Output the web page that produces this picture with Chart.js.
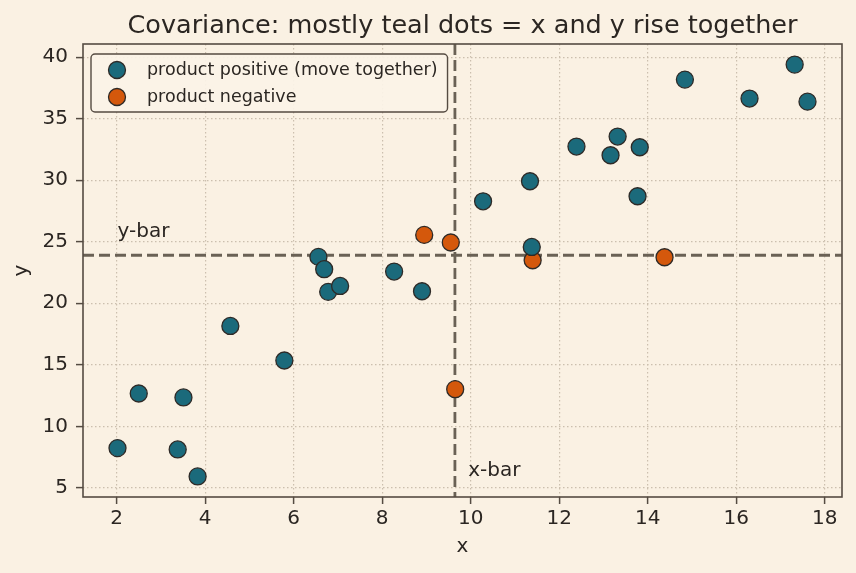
<!DOCTYPE html>
<html>
<head>
<meta charset="utf-8">
<script src="https://cdn.jsdelivr.net/npm/chart.js@4.4.1/dist/chart.umd.min.js"></script>
<style>
  html, body { margin: 0; padding: 0; background: #faf1e3; }
</style>
</head>
<body>
<canvas id="chart" width="856" height="573"></canvas>
<script>
// ---- values ----
const posX = [2.02, 2.50, 3.38, 3.51, 3.83, 4.57, 5.79, 6.56, 6.69, 6.78, 7.05, 8.27, 8.90,
              10.28, 11.34, 11.38, 12.39, 13.16, 13.32, 13.82, 13.77, 14.84, 16.30, 17.32, 17.61];
const posY = [8.23, 12.67, 8.12, 12.35, 5.93, 18.16, 15.35, 23.77, 22.77, 20.93, 21.41, 22.58, 20.98,
              28.29, 29.92, 24.58, 32.74, 32.03, 33.55, 32.68, 28.70, 38.18, 36.64, 39.40, 36.39];
const negX = [8.95, 9.55, 9.65, 11.40, 14.38];
const negY = [25.56, 24.94, 13.02, 23.50, 23.74];

const xTicks = [2, 4, 6, 8, 10, 12, 14, 16, 18];
const yTicks = [5, 10, 15, 20, 25, 30, 35, 40];

const titleText = 'Covariance: mostly teal dots = x and y rise together';
const posLabel = 'product positive (move together)';
const negLabel = 'product negative';

// means drive the dashed reference lines
const allX = posX.concat(negX);
const allY = posY.concat(negY);
const mean = a => a.reduce((s, v) => s + v, 0) / a.length;
const xBar = mean(allX);
const yBar = mean(allY);

// 5% margin around the data, like the source plot
function limits(arr, m) {
    const lo = Math.min(...arr), hi = Math.max(...arr);
    return [lo - (hi - lo) * m, hi + (hi - lo) * m];
}
const [xMin, xMax] = limits(allX, 0.05);
const [yMin, yMax] = limits(allY, 0.05);

// colours
const BG = '#faf1e3';
const INK = '#2b2622';
const SPINE = '#554b42';
const GRID = '#cbbfae';
const MEAN_C = '#6a6155';
const TEAL = '#1b6a7b';
const ORANGE = '#d4580c';
const EDGE = '#2e2a27';
const FONT = '"DejaVu Sans", sans-serif';
const DOT_R = 8.5;

const toPts = (xs, ys) => xs.map((x, i) => ({ x: x, y: ys[i] }));

// page background
const backdrop = {
    id: 'backdrop',
    beforeDraw(chart) {
        const ctx = chart.ctx;
        ctx.save();
        ctx.fillStyle = BG;
        ctx.fillRect(0, 0, chart.width, chart.height);
        ctx.restore();
    }
};

// dashed x-bar / y-bar lines, under the dots
const meanLines = {
    id: 'meanLines',
    beforeDatasetsDraw(chart) {
        const { ctx, chartArea: a, scales: { x, y } } = chart;
        const px = x.getPixelForValue(xBar);
        const py = y.getPixelForValue(yBar);
        ctx.save();
        ctx.beginPath();
        ctx.rect(a.left, a.top, a.width, a.height);
        ctx.clip();
        ctx.strokeStyle = MEAN_C;
        ctx.lineWidth = 2.8;
        ctx.setLineDash([11, 5]);
        ctx.beginPath();
        ctx.moveTo(a.left, py);
        ctx.lineTo(a.right, py);
        ctx.stroke();
        ctx.beginPath();
        ctx.moveTo(px, a.top);
        ctx.lineTo(px, a.bottom);
        ctx.stroke();
        ctx.restore();
    }
};

// frame, labels on the lines, title and legend box
const decor = {
    id: 'decor',
    afterDraw(chart) {
        const { ctx, chartArea: a, scales: { x, y } } = chart;
        ctx.save();

        ctx.strokeStyle = SPINE;
        ctx.lineWidth = 1.6;
        ctx.strokeRect(a.left, a.top, a.width, a.height);

        ctx.fillStyle = INK;
        ctx.font = '20px ' + FONT;
        ctx.textAlign = 'left';
        ctx.textBaseline = 'alphabetic';
        ctx.fillText('y-bar', x.getPixelForValue(Math.min(...allX)), y.getPixelForValue(yBar + 1.5));
        ctx.fillText('x-bar', x.getPixelForValue(xBar + 0.3), y.getPixelForValue(Math.min(...allY)));

        ctx.font = '25.5px ' + FONT;
        ctx.textAlign = 'center';
        ctx.fillText(titleText, (a.left + a.right) / 2, 33);

        // legend
        ctx.font = '17.5px ' + FONT;
        const textW = Math.max(...chart.data.datasets.map(d => ctx.measureText(d.label).width));
        const lx = a.left + 8, ly = a.top + 10;
        const lw = 56 + textW + 10, lh = 58;
        ctx.beginPath();
        ctx.roundRect(lx, ly, lw, lh, 4);
        ctx.fillStyle = 'rgba(251,243,231,0.92)';
        ctx.fill();
        ctx.lineWidth = 1.4;
        ctx.strokeStyle = SPINE;
        ctx.stroke();

        chart.data.datasets.forEach((ds, i) => {
            const cy = ly + 16 + i * 27;
            ctx.beginPath();
            ctx.arc(lx + 26, cy, DOT_R, 0, Math.PI * 2);
            ctx.fillStyle = ds.backgroundColor;
            ctx.fill();
            ctx.lineWidth = 1.3;
            ctx.strokeStyle = EDGE;
            ctx.stroke();
            ctx.fillStyle = INK;
            ctx.textAlign = 'left';
            ctx.textBaseline = 'middle';
            ctx.fillText(ds.label, lx + 56, cy);
        });

        ctx.restore();
    }
};

const tickFont = { family: FONT, size: 20 };

new Chart(document.getElementById('chart'), {
    type: 'scatter',
    data: {
        datasets: [
            {
                label: posLabel,
                data: toPts(posX, posY),
                backgroundColor: TEAL,
                borderColor: EDGE,
                borderWidth: 1.3,
                pointRadius: DOT_R,
                pointHoverRadius: DOT_R
            },
            {
                label: negLabel,
                data: toPts(negX, negY),
                backgroundColor: ORANGE,
                borderColor: EDGE,
                borderWidth: 1.3,
                pointRadius: DOT_R,
                pointHoverRadius: DOT_R
            }
        ]
    },
    options: {
        responsive: false,
        animation: false,
        devicePixelRatio: 1,
        layout: { padding: { top: 44, right: 14, bottom: 0, left: 0 } },
        plugins: {
            legend: { display: false },
            title: { display: false },
            tooltip: { enabled: false }
        },
        scales: {
            x: {
                type: 'linear',
                min: xMin,
                max: xMax,
                afterBuildTicks: s => { s.ticks = xTicks.map(v => ({ value: v })); },
                afterFit: s => { s.height = 76; },
                ticks: { color: INK, font: tickFont, padding: 3, maxRotation: 0, autoSkip: false },
                grid: { color: GRID, lineWidth: 1.2, tickLength: 7, tickColor: SPINE, tickWidth: 1.5 },
                border: { display: false, dash: [1.5, 2.5] },
                title: { display: true, text: 'x', color: INK, font: tickFont, padding: { top: 0, bottom: 14 } }
            },
            y: {
                type: 'linear',
                min: yMin,
                max: yMax,
                afterBuildTicks: s => { s.ticks = yTicks.map(v => ({ value: v })); },
                afterFit: s => { s.width = 83; },
                ticks: { color: INK, font: tickFont, padding: 8, autoSkip: false },
                grid: { color: GRID, lineWidth: 1.2, tickLength: 7, tickColor: SPINE, tickWidth: 1.5 },
                border: { display: false, dash: [1.5, 2.5] },
                title: { display: true, text: 'y', color: INK, font: tickFont, padding: { top: 10, bottom: 0 } }
            }
        }
    },
    plugins: [backdrop, meanLines, decor]
});
</script>
</body>
</html>
